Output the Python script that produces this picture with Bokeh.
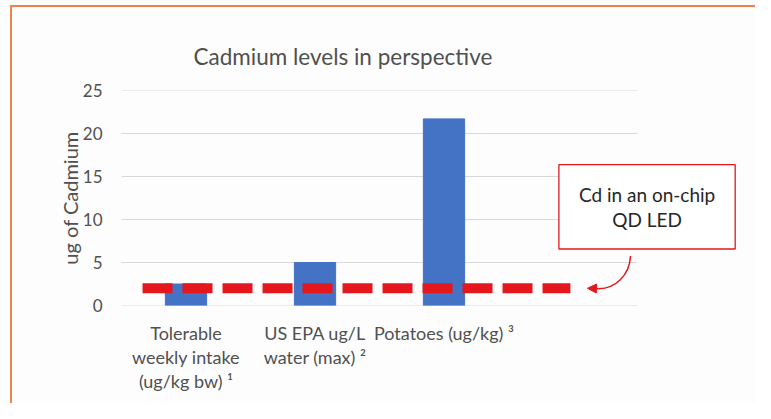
from bokeh.plotting import figure
from bokeh.models import Range1d, Label, Arrow, NormalHead, FixedTicker
from bokeh.embed import file_html
from bokeh.resources import INLINE

# ---- data ----
categories = ["Tolerable\nweekly intake\n(ug/kg bw) \u00b9", "US EPA ug/L\nwater (max) \u00b2", "Potatoes (ug/kg) \u00b3"]
values = [2.5, 5.0, 21.7]
n_slots = 4  # the fourth slot is left empty in the original chart
led_value = 2.0
led_label = "Cd in an on-chip\nQD LED"
y_ticks = [0, 5, 10, 15, 20, 25]
title_text = "Cadmium levels in perspective"
y_label = "ug of Cadmium"

FONT = "Lato"
TXT = "#595959"
RED = "#E3171C"
BLUE = "#4472C4"
GRID = "#D9D9D9"
ORANGE = "#F0824B"
BG = "#FDFDFD"

xpos = [i + 0.5 for i in range(len(categories))]
SLOT_PX = 129
FRAME_W = 634

p = figure(x_range=Range1d(0, FRAME_W / SLOT_PX), y_range=Range1d(0, 25),
           frame_width=FRAME_W, frame_height=215, width=755, height=403,
           min_border_left=121, min_border_right=0, min_border_top=90, min_border_bottom=98,
           output_backend="svg", toolbar_location=None, title=title_text)
p.styles = {
    "background": (f"linear-gradient({ORANGE}, {ORANGE}) 10px 5px / 100% 2px no-repeat, "
                   f"linear-gradient({ORANGE}, {ORANGE}) 10px 5px / 2px 100% no-repeat, {BG}"),
}
p.background_fill_color = BG
p.border_fill_alpha = 0
p.outline_line_color = None

p.title.align = "left"
p.title.offset = 72
p.title.standoff = 41
p.title.text_font = FONT
p.title.text_font_size = "22.5px"
p.title.text_font_style = "normal"
p.title.text_color = "#505050"

# horizontal gridlines (only across the category area)
p.segment(x0=[0] * len(y_ticks), x1=[n_slots] * len(y_ticks), y0=y_ticks, y1=y_ticks,
          line_color=GRID, line_width=1)

p.vbar(x=xpos, top=values, width=0.32, color=BLUE)

# y axis
p.yaxis.ticker = FixedTicker(ticks=y_ticks)
p.yaxis.axis_line_color = None
p.yaxis.major_tick_line_color = None
p.yaxis.minor_tick_line_color = None
p.yaxis.major_label_text_font = FONT
p.yaxis.major_label_text_font_size = "17px"
p.yaxis.major_label_text_color = "#505050"
p.yaxis.major_label_standoff = 13
p.yaxis.axis_label = y_label
p.yaxis.axis_label_text_font = FONT
p.yaxis.axis_label_text_font_size = "20px"
p.yaxis.axis_label_text_font_style = "normal"
p.yaxis.axis_label_text_color = "#505050"
p.yaxis.axis_label_standoff = -2

# x axis
p.xaxis.ticker = FixedTicker(ticks=xpos)
p.xaxis.major_label_overrides = {x: c for x, c in zip(xpos, categories)}
p.xaxis.axis_line_color = None
p.xaxis.major_tick_line_color = None
p.xaxis.minor_tick_line_color = None
p.xaxis.major_label_text_font = FONT
p.xaxis.major_label_text_font_size = "18px"
p.xaxis.major_label_text_color = "#505050"
p.xaxis.major_label_text_line_height = 1.1
p.xaxis.major_label_standoff = 10

p.xgrid.grid_line_color = None
p.ygrid.grid_line_color = None

# dashed LED line
p.line(x=[0.163, 3.48], y=[led_value, led_value],
       line_color=RED, line_width=10, line_dash="30 10")

# curved arrow
p.bezier(x0=[3.946], y0=[5.75], x1=[3.70], y1=[led_value - 0.04],
         cx0=[3.938], cy0=[3.4], cx1=[3.82], cy1=[led_value - 0.05],
         line_color=RED, line_width=1.5)
p.add_layout(Arrow(end=NormalHead(size=9, fill_color=RED, line_color=RED, line_width=1),
                   x_start=3.70, y_start=led_value - 0.04, x_end=3.612, y_end=led_value,
                   line_color=RED, line_width=1.5))

# callout box
p.add_layout(Label(x=4.074, y=11.47, text=led_label,
                   text_align="center", text_baseline="middle",
                   text_font=FONT, text_font_size="19px", text_color="#262626",
                   text_line_height=1.1,
                   background_fill_color="white",
                   border_line_color=RED, border_line_width=1.3,
                   padding=dict(left=20, right=20, top=18, bottom=18)))

open("out.html", "w").write(file_html(p, INLINE))
